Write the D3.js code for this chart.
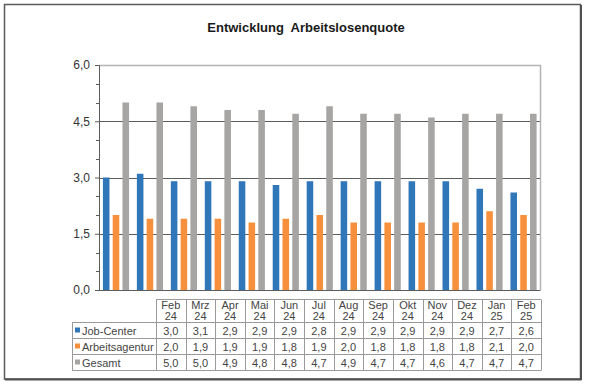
<!DOCTYPE html>
<html>
<head>
<meta charset="utf-8">
<script src="https://cdn.jsdelivr.net/npm/d3@7"></script>
<style>
  html, body { margin: 0; padding: 0; background: #fff; }
  svg { display: block; font-family: "Liberation Sans", Arial, sans-serif; }
</style>
</head>
<body>
<svg id="chart" width="590" height="384"></svg>
<script>
// ---- data ----
const title = "Entwicklung  Arbeitslosenquote";
const months = ["Feb", "Mrz", "Apr", "Mai", "Jun", "Jul", "Aug", "Sep", "Okt", "Nov", "Dez", "Jan", "Feb"];
const years  = ["24", "24", "24", "24", "24", "24", "24", "24", "24", "24", "24", "25", "25"];
const seriesNames = ["Job-Center", "Arbeitsagentur", "Gesamt"];
const jobCenter      = [3.0, 3.1, 2.9, 2.9, 2.9, 2.8, 2.9, 2.9, 2.9, 2.9, 2.9, 2.7, 2.6];
const arbeitsagentur = [2.0, 1.9, 1.9, 1.9, 1.8, 1.9, 2.0, 1.8, 1.8, 1.8, 1.8, 2.1, 2.0];
const gesamt         = [5.0, 5.0, 4.9, 4.8, 4.8, 4.7, 4.9, 4.7, 4.7, 4.6, 4.7, 4.7, 4.7];
const yTicks = [0, 1.5, 3.0, 4.5, 6.0];
const seriesColors = ["#2f77b8", "#f7903c", "#a7a5a3"];

const seriesValues = [jobCenter, arbeitsagentur, gesamt];
const categories = months.map((m, i) => m + " " + years[i]);
const fmt = v => d3.format(".1f")(v).replace(".", ",");

const svg = d3.select("#chart");
svg.append("rect").attr("width", 590).attr("height", 384).attr("fill", "#fff");

// outer frame
svg.append("rect").attr("x", 4.5).attr("y", 4.5).attr("width", 576).attr("height", 374.5)
  .attr("fill", "none").attr("stroke", "#5a5a5a").attr("stroke-width", 1.5);
svg.append("line").attr("x1", 581).attr("x2", 581).attr("y1", 5).attr("y2", 380)
  .attr("stroke", "#505050").attr("stroke-width", 2);
svg.append("line").attr("x1", 5).attr("x2", 581.5).attr("y1", 379.5).attr("y2", 379.5)
  .attr("stroke", "#505050").attr("stroke-width", 2);

// title
svg.append("text").attr("x", 306).attr("y", 32).attr("text-anchor", "middle")
  .attr("font-size", 13).attr("font-weight", "bold").attr("fill", "#1a1a1a")
  .style("white-space", "pre").attr("xml:space", "preserve").text(title);

// scales
const plotL = 99, plotR = 540.5, plotT = 65, plotB = 290;
const y = d3.scaleLinear().domain([0, 6]).range([plotB, plotT]);
const x0 = d3.scaleBand().domain(categories).range([plotL, plotR])
  .paddingInner(0.23).paddingOuter(0.115);
const x1 = d3.scaleBand().domain(seriesNames).range([0, x0.bandwidth()])
  .paddingInner(0.33).paddingOuter(0);

// gridlines
svg.append("g").selectAll("line").data(yTicks.filter(t => t > 0 && t < 6)).join("line")
  .attr("x1", plotL).attr("x2", plotR)
  .attr("y1", d => Math.round(y(d)) + 0.5).attr("y2", d => Math.round(y(d)) + 0.5)
  .attr("stroke", "#5c5c5c").attr("stroke-width", 1);

// plot border top/right
svg.append("path")
  .attr("d", `M${plotL},${plotT + 0.5}H${plotR}V${plotB}`)
  .attr("fill", "none").attr("stroke", "#b3b3b3").attr("stroke-width", 1.5);

// bars
const groups = svg.append("g").selectAll("g").data(categories).join("g")
  .attr("transform", d => `translate(${x0(d)},0)`);
groups.selectAll("rect").data((d, i) => seriesNames.map((s, k) => ({ s, k, v: seriesValues[k][i] })))
  .join("rect")
  .attr("x", d => x1(d.s)).attr("width", x1.bandwidth())
  .attr("y", d => y(d.v)).attr("height", d => y(0) - y(d.v))
  .attr("fill", d => seriesColors[d.k]);

// y axis
const yAxis = d3.axisLeft(y).tickValues(yTicks).tickSize(4).tickPadding(5).tickFormat(fmt);
const gy = svg.append("g").attr("transform", `translate(${plotL},0)`).call(yAxis);
gy.select(".domain").attr("stroke", "#5c5c5c");
gy.selectAll(".tick line").attr("stroke", "#5c5c5c");
gy.selectAll(".tick text").attr("font-size", 12).attr("fill", "#333")
  .attr("font-family", "'Liberation Sans', Arial, sans-serif");
const minor = d3.range(0, 6.01, 0.5).filter(v => !yTicks.some(t => Math.abs(t - v) < 1e-6));
svg.append("g").selectAll("line").data(minor).join("line")
  .attr("x1", plotL - 3).attr("x2", plotL)
  .attr("y1", d => Math.round(y(d)) + 0.5).attr("y2", d => Math.round(y(d)) + 0.5)
  .attr("stroke", "#5c5c5c");

// bottom axis line
svg.append("line").attr("x1", plotL - 4).attr("x2", plotR).attr("y1", plotB + 0.5).attr("y2", plotB + 0.5)
  .attr("stroke", "#5c5c5c");

// data table
const tL = 72, tC = 156, tR = 541;
const rowY = [299.5, 322.5, 338.5, 354.5, 370.5];
const xt = d3.scaleBand().domain(categories).range([tC, tR]);
const table = svg.append("g").attr("font-size", 11).attr("fill", "#444");
const stroke = "#9a9a9a";
// horizontal lines
table.append("line").attr("x1", tC).attr("x2", tR).attr("y1", rowY[0]).attr("y2", rowY[0]).attr("stroke", stroke);
rowY.slice(1).forEach(yy => table.append("line").attr("x1", tL).attr("x2", tR)
  .attr("y1", yy).attr("y2", yy).attr("stroke", stroke));
// vertical lines
table.append("line").attr("x1", tL + 0.5).attr("x2", tL + 0.5).attr("y1", rowY[1]).attr("y2", rowY[4]).attr("stroke", stroke);
categories.forEach(c => table.append("line").attr("x1", Math.round(xt(c)) + 0.5).attr("x2", Math.round(xt(c)) + 0.5)
  .attr("y1", rowY[0]).attr("y2", rowY[4]).attr("stroke", stroke));
table.append("line").attr("x1", tR + 0.5).attr("x2", tR + 0.5).attr("y1", rowY[0]).attr("y2", rowY[4]).attr("stroke", stroke);
// header
categories.forEach((c, i) => {
  const cx = xt(c) + xt.bandwidth() / 2;
  table.append("text").attr("x", cx).attr("y", 309).attr("text-anchor", "middle").attr("fill", "#444").text(months[i]);
  table.append("text").attr("x", cx).attr("y", 320).attr("text-anchor", "middle").attr("fill", "#444").text(years[i]);
});
// rows
seriesNames.forEach((s, k) => {
  const ty = rowY[k + 1] + 12;
  table.append("rect").attr("x", tL + 3).attr("y", ty - 7).attr("width", 5).attr("height", 5).attr("fill", seriesColors[k]);
  table.append("text").attr("x", tL + 10).attr("y", ty).attr("fill", "#444").text(s);
  seriesValues[k].forEach((v, i) => {
    table.append("text").attr("x", xt(categories[i]) + xt.bandwidth() / 2).attr("y", ty)
      .attr("text-anchor", "middle").attr("fill", "#444").text(fmt(v));
  });
});
</script>
</body>
</html>
